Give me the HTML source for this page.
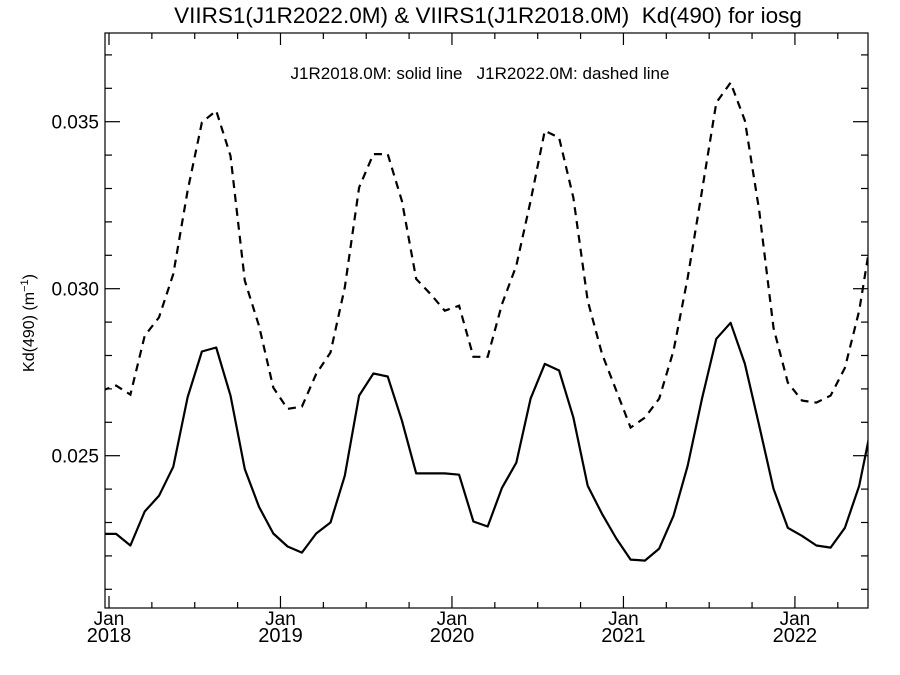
<!DOCTYPE html>
<html><head><meta charset="utf-8"><style>
html,body{margin:0;padding:0;background:#fff}
svg{display:block;font-family:"Liberation Sans",Arial,sans-serif}
text{white-space:pre}
</style></head><body>
<svg id="chart" width="900" height="675" viewBox="0 0 900 675" xml:space="preserve">
<defs><clipPath id="plotclip"><rect x="105" y="33" width="763" height="575"/></clipPath></defs>
<rect width="900" height="675" fill="#fff"/>
<text x="488" y="23" font-size="22.5" text-anchor="middle">VIIRS1(J1R2022.0M) &amp; VIIRS1(J1R2018.0M)  Kd(490) for iosg</text>
<text x="480" y="79" font-size="17" text-anchor="middle">J1R2018.0M: solid line   J1R2022.0M: dashed line</text>
<text transform="translate(34,323) rotate(-90)" font-size="16" text-anchor="middle">Kd(490) (m<tspan dy="-6" font-size="11">−1</tspan><tspan dy="6">)</tspan></text>
<rect x="105" y="33" width="763" height="575" fill="none" stroke="#000" stroke-width="1.2"/>
<g id="axes"></g>
<g id="series" clip-path="url(#plotclip)"></g>
</svg>
<script>
// months from Dec 2017 (index -1) through Jun 2022
const startMonthIndex = -1;
const solidValues = [0.02266,0.02266,0.02231,0.02333,0.02380,0.02467,0.02675,0.02812,0.02824,0.02680,0.02460,0.02347,0.02267,0.02228,0.02210,0.02267,0.02300,0.02440,0.02680,0.02746,0.02737,0.02605,0.02447,0.02447,0.02447,0.02443,0.02303,0.02288,0.02404,0.02479,0.02671,0.02775,0.02755,0.02614,0.02410,0.02326,0.02252,0.02189,0.02186,0.02222,0.02320,0.02470,0.02671,0.02850,0.02898,0.02775,0.02590,0.02401,0.02284,0.02260,0.02231,0.02225,0.02284,0.02410,0.02620];
const dashedValues = [0.02695,0.02710,0.02683,0.02859,0.02914,0.03044,0.03293,0.03498,0.03533,0.03398,0.03024,0.02889,0.02704,0.02640,0.02647,0.02745,0.02809,0.03004,0.03303,0.03403,0.03403,0.03263,0.03029,0.02984,0.02934,0.02949,0.02796,0.02796,0.02954,0.03069,0.03263,0.03473,0.03452,0.03272,0.02964,0.02805,0.02695,0.02584,0.02614,0.02671,0.02814,0.03033,0.03293,0.03557,0.03617,0.03503,0.03234,0.02883,0.02719,0.02665,0.02659,0.02680,0.02763,0.02934,0.03198];
const yTickValues = [0.025,0.030,0.035];
const yTickLabels = ["0.025","0.030","0.035"];
const yearLabels = ["2018","2019","2020","2021","2022"];

const NS="http://www.w3.org/2000/svg";
const L=105,R=868,T=33,B=608;
const x0=109, monthW=14.29;
function xScale(m){return x0+m*monthW;}
function yScale(v){return 121.7+(0.035-v)*33400;}
const axes=document.getElementById('axes');
const series=document.getElementById('series');
function mk(tag,attrs,parent){const e=document.createElementNS(NS,tag);for(const k in attrs)e.setAttribute(k,attrs[k]);parent.appendChild(e);return e;}

for(let k=21;k<=37;k++){
  const v=k/1000, y=yScale(v);
  if(y<T||y>B)continue;
  const major=(k%5===0), len=major?15:7;
  const t1=mk('line',{x1:L,x2:L+len,y1:y,y2:y,stroke:'#000','stroke-width':1.2},axes);
  
  
  const t2=mk('line',{x1:R,x2:R-len,y1:y,y2:y,stroke:'#000','stroke-width':1.2},axes);
  
  
}
yTickValues.forEach((v,i)=>{
  const t=mk('text',{x:99,y:yScale(v)+7,'font-size':19,'text-anchor':'end'},axes);
  t.textContent=yTickLabels[i];
  
  
});
for(let m=0;m<=54;m+=3){
  const x=xScale(m); if(x>R)break;
  const len=(m%12===0)?12:6;
  const a=mk('line',{x1:x,x2:x,y1:B,y2:B-len,stroke:'#000','stroke-width':1.2},axes);
  
  
  const b=mk('line',{x1:x,x2:x,y1:T,y2:T+len,stroke:'#000','stroke-width':1.2},axes);
  
  
}
yearLabels.forEach((yr,i)=>{
  const x=xScale(i*12);
  const j=mk('text',{x:x,y:625,'font-size':19,'text-anchor':'middle'},axes);
  j.textContent='Jan';
  
  
  const t=mk('text',{x:x,y:642,'font-size':20,'text-anchor':'middle'},axes);
  t.textContent=yr;
  
  
});
function pts(vals){return vals.map((v,i)=>xScale(startMonthIndex+i+0.5).toFixed(1)+','+yScale(v).toFixed(1)).join(' ');}
const s=mk('polyline',{points:pts(solidValues),fill:'none',stroke:'#000','stroke-width':2.2,'stroke-linejoin':'round'},series);


const d=mk('polyline',{points:pts(dashedValues),fill:'none',stroke:'#000','stroke-width':2.2,'stroke-dasharray':'8,6'},series);


</script>
</body></html>
